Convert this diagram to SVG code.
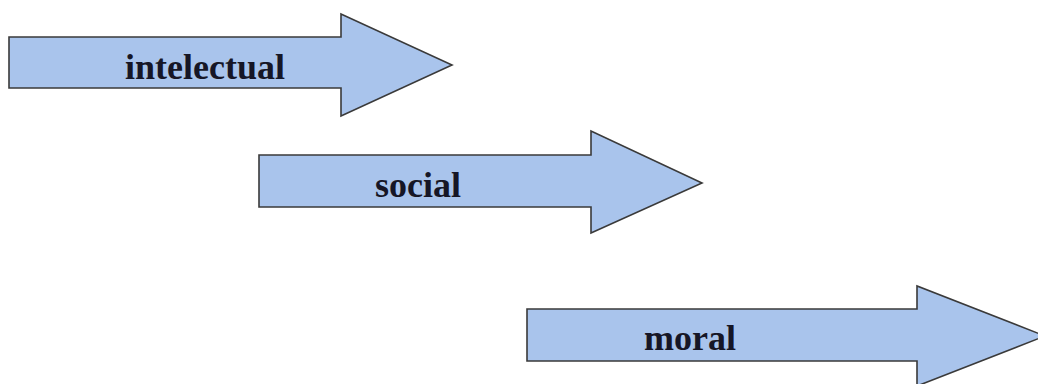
<svg xmlns="http://www.w3.org/2000/svg" width="1038" height="384" viewBox="0 0 1038 384">
<style>
.arrow{fill:#a9c4ec;stroke:#3a3a3a;stroke-width:1.6;stroke-linejoin:miter}
.lbl{font-family:"Liberation Serif","Times New Roman",serif;font-weight:bold;font-size:36px;fill:#161626}
</style>
<rect width="1038" height="384" fill="#ffffff"/>
<g id="node-intelectual">
<polygon class="arrow" points="9,37 341,37 341,14 452,65 341,116 341,88 9,88"/>
<text class="lbl" x="125" y="79">intelectual</text>
</g>
<g id="node-social">
<polygon class="arrow" points="259,155 591,155 591,131 702,183 591,233 591,207 259,207"/>
<text class="lbl" x="375" y="197">social</text>
</g>
<g id="node-moral">
<polygon class="arrow" points="527,309 917,309 917,286 1045,336 917,386 917,361 527,361"/>
<text class="lbl" x="644" y="350">moral</text>
</g>
<g id="connectors"></g>
</svg>
